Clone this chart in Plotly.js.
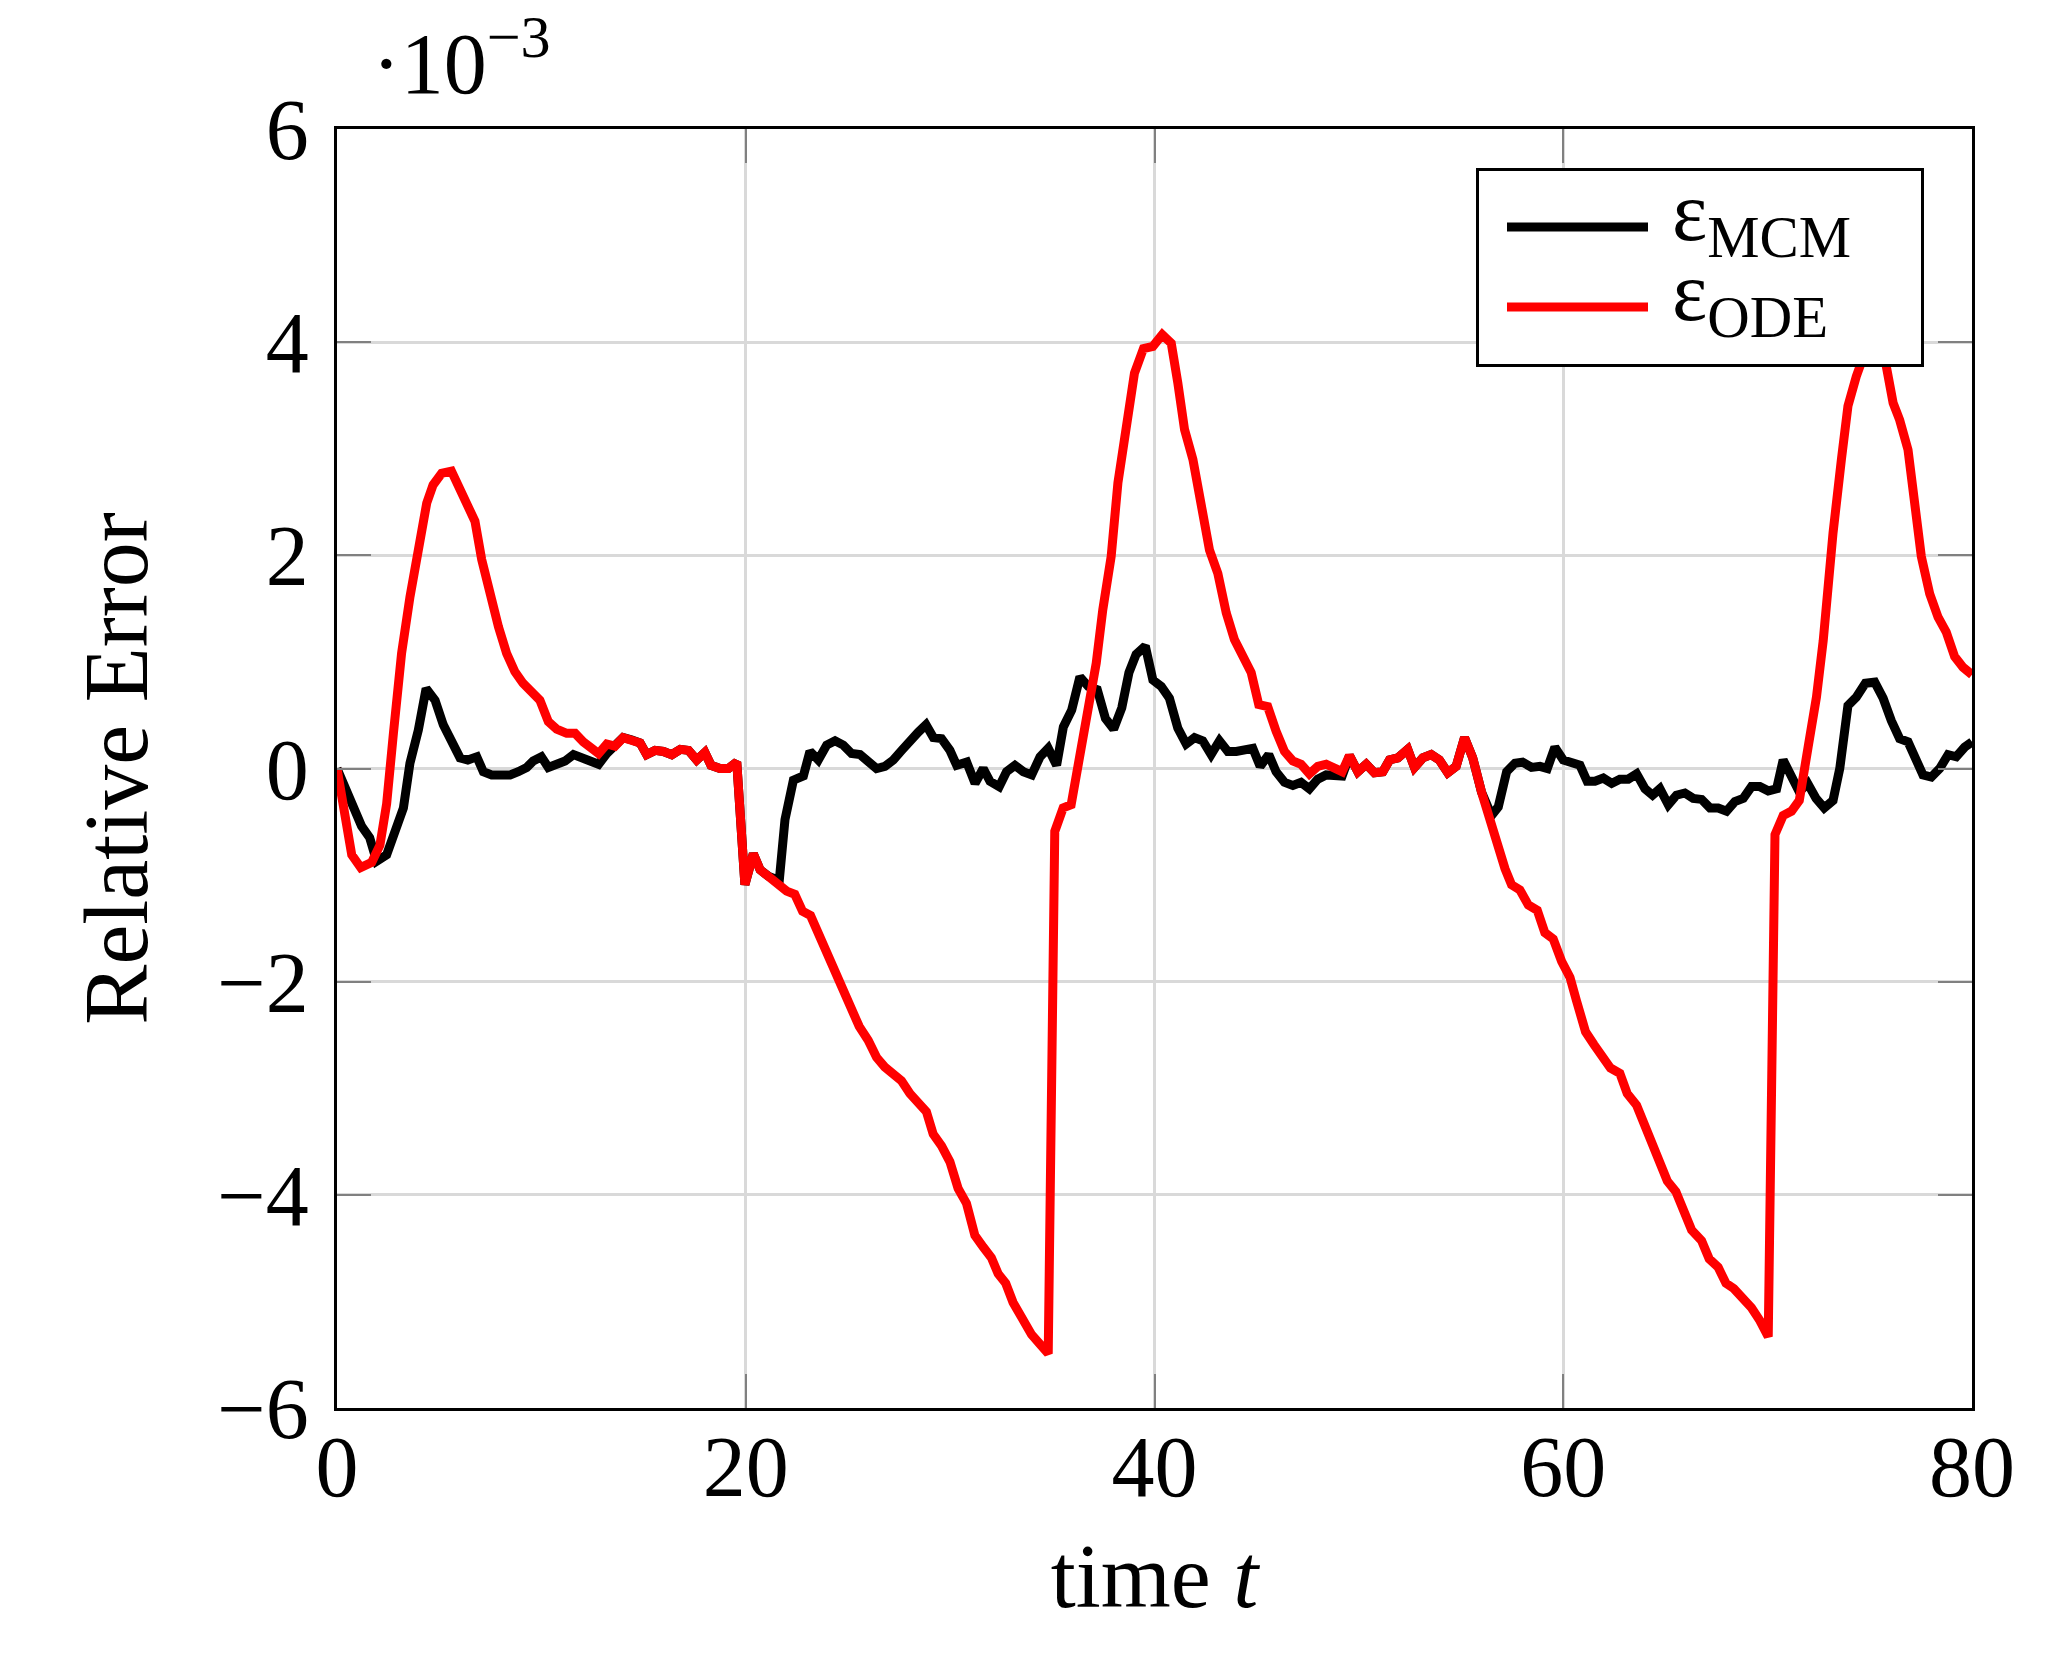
<!DOCTYPE html>
<html>
<head>
<meta charset="utf-8">
<script src="https://cdn.plot.ly/plotly-3.0.1.min.js"></script>
<style>
  html, body { margin: 0; padding: 0; background: #fff; }
  #plot { width: 2065px; height: 1656px; }
</style>
</head>
<body>
<div id="plot"></div>
<script>
// relative error of the MCM solver (units of 1e-3)
const tMCM = [
    0, 0.55, 0.88, 1.2, 1.6, 1.94, 2.43, 2.84, 3.25, 3.57, 3.98, 4.36, 4.8, 5.2, 5.6, 6.02, 6.4, 6.84,
    7.16, 7.57, 7.98, 8.47, 8.87, 9.28, 9.6, 10.0, 10.34, 10.75, 11.16, 11.57, 11.97, 12.38, 12.8,
    13.2, 13.6, 14.0, 14.4, 14.83, 15.15, 15.56, 15.97, 16.38, 16.8, 17.2, 17.6, 18.0, 18.3, 18.74,
    19.15, 19.56, 19.96, 20.37, 20.7, 21.1, 21.64, 21.92, 22.33, 22.82, 23.14, 23.55, 23.96, 24.37,
    24.77, 25.18, 25.59, 26.0, 26.4, 26.81, 27.22, 27.63, 28.04, 28.44, 28.82, 29.18, 29.58, 29.99,
    30.32, 30.81, 31.22, 31.62, 31.95, 32.4, 32.76, 33.17, 33.58, 33.99, 34.4, 34.8, 35.21, 35.54,
    35.95, 36.35, 36.76, 37.2, 37.6, 38.0, 38.4, 38.75, 39.1, 39.55, 39.92, 40.33, 40.73, 41.14,
    41.55, 41.96, 42.36, 42.77, 43.18, 43.59, 44.0, 44.4, 44.81, 45.17, 45.59, 45.95, 46.36, 46.77,
    47.17, 47.58, 47.99, 48.4, 48.81, 49.18, 49.54, 49.95, 50.36, 50.76, 51.17, 51.5, 51.91, 52.39,
    52.72, 53.13, 53.54, 53.94, 54.35, 54.76, 55.17, 55.57, 56.0, 56.49, 56.82, 57.23, 57.64, 58.01,
    58.45, 58.86, 59.22, 59.59, 60.0, 60.41, 60.82, 61.17, 61.55, 61.96, 62.37, 62.77, 63.18, 63.59,
    64.0, 64.37, 64.73, 65.14, 65.54, 65.95, 66.36, 66.77, 67.18, 67.58, 67.99, 68.4, 68.81, 69.21,
    69.62, 70.03, 70.44, 70.76, 71.15, 71.55, 71.96, 72.37, 72.77, 73.2, 73.53, 73.93, 74.34, 74.78,
    75.24, 75.65, 76.05, 76.46, 76.87, 77.28, 77.6, 78.01, 78.42, 78.83, 79.23, 79.64, 80
];
const errMCM = [
    0, -0.23, -0.36, -0.54, -0.65, -0.87, -0.81, -0.61, -0.37, 0.05, 0.36, 0.75, 0.64, 0.41, 0.27, 0.1, 0.08, 0.11,
    -0.03, -0.06, -0.06, -0.06, -0.03, 0.01, 0.07, 0.11, 0.01, 0.03, 0.07, 0.13, 0.1, 0.07, 0.04,
    0.14, 0.21, 0.29, 0.27, 0.24, 0.13, 0.17, 0.16, 0.13, 0.18, 0.17, 0.08, 0.15, 0.03, 0,
    0, 0.06, -1.09, -0.8, -0.95, -1.01, -1.05, -0.48, -0.11, -0.07, 0.16, 0.08, 0.22, 0.26,
    0.22, 0.14, 0.13, 0.06, 0, 0.02, 0.08, 0.17, 0.27, 0.34, 0.41, 0.29, 0.28, 0.17,
    0.03, 0.06, -0.14, 0, -0.12, -0.17, -0.03, 0.03, -0.03, -0.06, 0.11, 0.19, 0.03, 0.39,
    0.55, 0.86, 0.77, 0.74, 0.47, 0.37, 0.57, 0.9, 1.07, 1.15, 0.83, 0.77, 0.66, 0.38,
    0.23, 0.29, 0.26, 0.13, 0.26, 0.16, 0.16, 0.18, 0.19, 0.02, 0.13, -0.03, -0.13, -0.16,
    -0.13, -0.19, -0.1, -0.06, -0.07, -0.07, 0.12, -0.03, 0.04, -0.04, -0.03, 0.08, 0.1, 0.18,
    0.01, 0.1, 0.13, 0.08, -0.04, 0.02, 0.29, 0.1, -0.22, -0.44, -0.36, -0.03, 0.05, 0.06,
    0.01, 0.02, 0, 0.2, 0.08, 0.06, 0.03, -0.12, -0.12, -0.09, -0.14, -0.1, -0.1, -0.05,
    -0.19, -0.25, -0.19, -0.34, -0.25, -0.23, -0.28, -0.29, -0.37, -0.37, -0.4, -0.31, -0.28, -0.17,
    -0.17, -0.21, -0.19, 0.08, -0.05, -0.22, -0.14, -0.28, -0.37, -0.3, 0, 0.59, 0.67, 0.8,
    0.81, 0.66, 0.45, 0.28, 0.25, 0.05, -0.06, -0.08, 0, 0.13, 0.11, 0.2, 0.25
];

// relative error of the ODE solver (units of 1e-3)
const tODE = [
    0, 0.3, 0.72, 1.16, 1.7, 2.1, 2.43, 2.76, 3.16, 3.57, 3.98, 4.39, 4.7, 5.12, 5.6, 5.94, 6.35, 6.75,
    7.08, 7.49, 7.9, 8.3, 8.7, 9.1, 9.6, 9.93, 10.34, 10.75, 11.24, 11.65, 12.05, 12.46, 12.8, 13.2,
    13.6, 14.0, 14.4, 14.83, 15.15, 15.56, 15.97, 16.38, 16.8, 17.2, 17.6, 18.0, 18.3, 18.74, 19.15,
    19.56, 19.96, 20.37, 20.7, 21.1, 21.5, 22.0, 22.4, 22.78, 23.17, 23.63, 24.03, 24.44, 24.77, 25.17,
    25.55, 25.99, 26.4, 26.8, 27.21, 27.62, 28.03, 28.44, 28.84, 29.17, 29.58, 29.99, 30.39, 30.8,
    31.21, 31.62, 32.02, 32.35, 32.72, 33.08, 33.49, 33.98, 34.39, 34.8, 35.12, 35.53, 35.92, 36.33,
    36.74, 37.15, 37.47, 37.88, 38.21, 38.61, 39.02, 39.46, 39.92, 40.38, 40.82, 41.14, 41.47, 41.88,
    42.28, 42.69, 43.1, 43.51, 43.91, 44.32, 44.73, 45.1, 45.54, 45.95, 46.36, 46.77, 47.17, 47.58,
    47.99, 48.4, 48.81, 49.18, 49.54, 49.95, 50.36, 50.76, 51.17, 51.5, 51.91, 52.39, 52.72, 53.13,
    53.54, 53.94, 54.35, 54.76, 55.17, 55.57, 56.0, 56.41, 56.78, 57.15, 57.47, 57.88, 58.29, 58.73,
    59.1, 59.51, 59.92, 60.33, 60.65, 61.09, 61.5, 61.92, 62.31, 62.77, 63.13, 63.59, 63.99, 64.32,
    64.73, 65.09, 65.51, 65.87, 66.28, 66.77, 67.14, 67.58, 67.96, 68.35, 68.81, 69.21, 69.62, 70.03,
    70.36, 70.76, 71.17, 71.55, 71.98, 72.39, 72.72, 72.95, 73.2, 73.61, 73.93, 74.34, 74.58, 74.98,
    75.4, 75.81, 76.14, 76.46, 76.87, 77.2, 77.52, 77.93, 78.34, 78.74, 79.15, 79.56, 80
];
const errODE = [
    0, -0.36, -0.81, -0.93, -0.88, -0.72, -0.33, 0.33, 1.08, 1.61, 2.05, 2.49, 2.66, 2.77, 2.79, 2.66, 2.5, 2.32,
    1.96, 1.63, 1.33, 1.08, 0.91, 0.8, 0.71, 0.64, 0.44, 0.37, 0.33, 0.33, 0.25, 0.19, 0.14, 0.23,
    0.21, 0.29, 0.27, 0.24, 0.13, 0.17, 0.16, 0.13, 0.18, 0.17, 0.08, 0.15, 0.03, 0, 0,
    0.06, -1.09, -0.8, -0.95, -1.01, -1.06, -1.15, -1.18, -1.34, -1.38, -1.58, -1.77, -1.97, -2.11, -2.24,
    -2.42, -2.55, -2.71, -2.8, -2.88, -2.93, -3.05, -3.13, -3.22, -3.43, -3.54, -3.69, -3.94, -4.08,
    -4.38, -4.49, -4.59, -4.74, -4.83, -5.01, -5.15, -5.31, -5.4, -5.49, -0.59, -0.37, -0.34, 0.12,
    0.51, 0.99, 1.49, 1.99, 2.68, 3.24, 3.71, 3.94, 3.96, 4.07, 3.99, 3.62, 3.18, 2.9,
    2.46, 2.05, 1.83, 1.46, 1.21, 1.04, 0.9, 0.6, 0.58, 0.35, 0.16, 0.07, 0.04, -0.05,
    0.02, 0.04, 0.01, -0.03, 0.12, -0.03, 0.04, -0.04, -0.03, 0.08, 0.1, 0.18, 0.01, 0.1,
    0.13, 0.08, -0.04, 0.02, 0.29, 0.1, -0.22, -0.5, -0.7, -0.94, -1.09, -1.14, -1.28, -1.33,
    -1.54, -1.6, -1.81, -1.96, -2.18, -2.47, -2.59, -2.72, -2.81, -2.86, -3.05, -3.16, -3.34, -3.49,
    -3.68, -3.87, -3.97, -4.14, -4.33, -4.43, -4.6, -4.68, -4.83, -4.88, -4.97, -5.06, -5.18, -5.33,
    -0.62, -0.44, -0.4, -0.3, 0.2, 0.67, 1.2, 1.71, 2.21, 2.9, 3.4, 3.68, 3.8, 4.02,
    4.08, 3.77, 3.43, 3.27, 2.99, 2.46, 1.99, 1.64, 1.42, 1.28, 1.05, 0.95, 0.88
];

const xTicks = [0, 20, 40, 60, 80];
const yTicks = [-6, -4, -2, 0, 2, 4, 6];

const serif = "Liberation Serif, Times New Roman, serif";

const mcmTrace = {
    x: tMCM,
    y: errMCM,
    mode: "lines",
    name: "ε<sub>MCM</sub>",
    line: { color: "#000000", width: 9 }
};

const odeTrace = {
    x: tODE,
    y: errODE,
    mode: "lines",
    name: "ε<sub>ODE</sub>",
    line: { color: "#ff0000", width: 9 }
};

// shared axis look, pgfplots style: inner ticks on all four sides
const axisStyle = {
    showline: true,
    linecolor: "#000000",
    linewidth: 3,
    mirror: "all",
    ticks: "inside",
    ticklen: 34,
    tickwidth: 2,
    tickcolor: "#808080",
    showgrid: true,
    gridcolor: "#d9d9d9",
    gridwidth: 3,
    zeroline: false,
    tickfont: { family: serif, size: 86, color: "#000000" }
};

const layout = {
    width: 2065,
    height: 1656,
    margin: { l: 337, r: 93, t: 129, b: 248 },
    paper_bgcolor: "#ffffff",
    plot_bgcolor: "#ffffff",
    showlegend: true,
    xaxis: Object.assign({}, axisStyle, {
        range: [0, 80],
        tickvals: xTicks,
        ticklabelstandoff: -18,
        title: { text: "time <i>t</i>", font: { family: serif, size: 90, color: "#000000" }, standoff: 30 }
    }),
    yaxis: Object.assign({}, axisStyle, {
        range: [-6, 6],
        tickvals: yTicks,
        ticklabelstandoff: 8,
        title: { text: "Relative Error", font: { family: serif, size: 90, color: "#000000" }, standoff: 40 }
    }),
    legend: {
        x: 0.969,
        y: 0.969,
        xanchor: "right",
        yanchor: "top",
        bgcolor: "#ffffff",
        bordercolor: "#000000",
        borderwidth: 3,
        itemwidth: 180,
        font: { family: serif, size: 84, color: "#000000" }
    },
    annotations: [{
        xref: "paper",
        yref: "paper",
        x: 0.02,
        y: 1.1,
        xanchor: "left",
        yanchor: "top",
        showarrow: false,
        text: "·10<sup>−3</sup>",
        font: { family: serif, size: 86, color: "#000000" }
    }]
};

const config = { displayModeBar: false, staticPlot: true };

Plotly.newPlot("plot", [mcmTrace, odeTrace], layout, config).then(fitLegend);

/**
 * Plotly's legend rows are taller and its line samples shorter than the
 * pgfplots ones, so nudge the legend frame, samples and labels into place.
 */
function fitLegend() {
    const frame = { left: 1477, top: 169, width: 445, height: 196 };
    const lineStart = 1507, lineLen = 141, textStart = 1672;
    const rowCenters = [227, 307];
    const textLift = -20;

    const leg = document.querySelector(".legend");
    if (!leg) return;
    const bg = leg.querySelector("rect.bg");
    const scroll = leg.querySelector(".scrollbox");
    if (scroll) scroll.removeAttribute("clip-path");

    const b = bg.getBoundingClientRect();
    leg.setAttribute("transform", (leg.getAttribute("transform") || "") +
        ` translate(${frame.left - b.left},${frame.top - b.top})`);
    bg.setAttribute("width", frame.width);
    bg.setAttribute("height", frame.height);

    leg.querySelectorAll(".traces").forEach((item, i) => {
        const path = item.querySelector(".legendlines path");
        const text = item.querySelector("text.legendtext");
        if (!path || !text) return;
        path.setAttribute("d", "M0,0h" + lineLen);
        const p = path.getBoundingClientRect();
        const cy = (p.top + p.bottom) / 2;
        item.setAttribute("transform", (item.getAttribute("transform") || "") +
            ` translate(${lineStart - p.left},${rowCenters[i] - cy})`);
        const t = text.getBoundingClientRect();
        text.setAttribute("transform", `translate(${textStart - t.left},${textLift})`);
    });
}
</script>
</body>
</html>
